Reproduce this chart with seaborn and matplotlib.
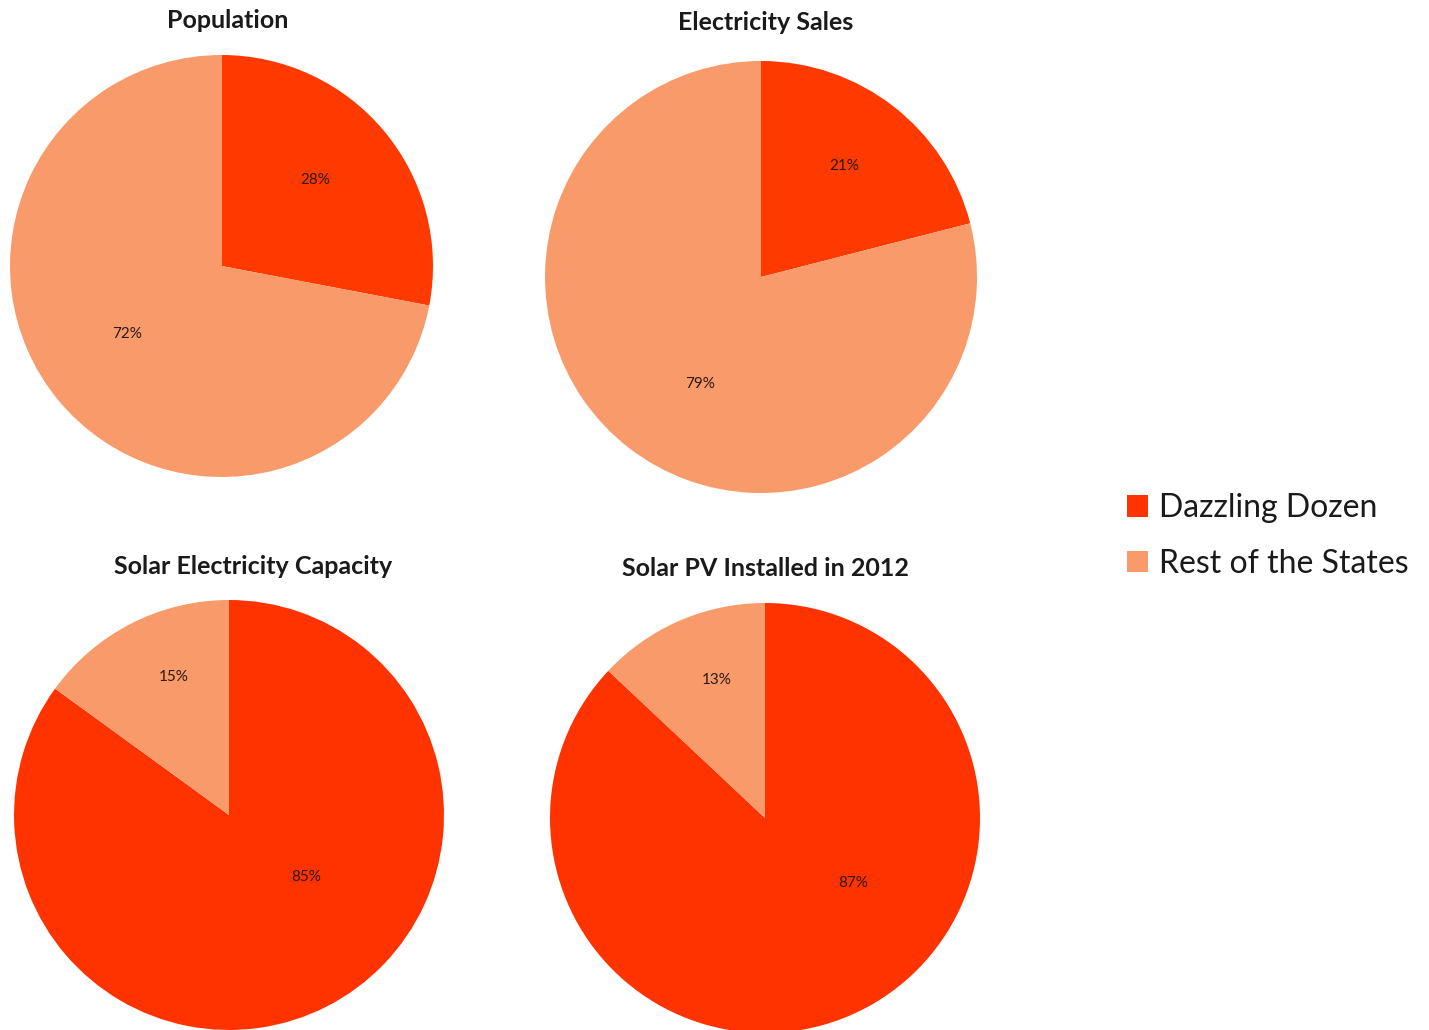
import matplotlib
matplotlib.use("Agg")
import matplotlib.pyplot as plt
import seaborn as sns
import numpy as np
from matplotlib.patches import Patch

sns.set_theme(style="white")
plt.rcParams['font.family'] = ['Lato', 'DejaVu Sans']

titles = ["Population", "Electricity Sales", "Solar Electricity Capacity", "Solar PV Installed in 2012"]
series_names = ["Dazzling Dozen", "Rest of the States"]
dozen_share = [28, 21, 85, 87]
rest_share = [72, 79, 15, 13]
colors_top = ["#FF3A00", "#F99A6A"]
colors_bottom = ["#FF3300", "#F99A6A"]

W, H = 1429, 1030
fig = plt.figure(figsize=(W / 100, H / 100), dpi=100)
fig.patch.set_facecolor("white")

# layout: pixel boxes (left, top, right, bottom) for each pie
boxes = [(10, 55, 433, 477), (545, 61, 977, 493), (14, 600, 444, 1030), (550, 603, 980, 1033)]
title_pos = [(228, 20), (766, 22), (253, 567), (765, 569)]
# label placement style (radial distance, angular shift in degrees) per wedge, mimicking Excel best-fit
label_radius = [(0.60, 0.55), (0.64, 0.57), (0.46, 0.69), (0.51, 0.68)]
label_shift = [(3, -4), (1, 8), (24, -5), (30, -4)]

for i in range(4):
    l, t, r, b = boxes[i]
    ax = fig.add_axes([l / W, 1 - b / H, (r - l) / W, (b - t) / H])
    cols = colors_top if i < 2 else colors_bottom
    wedges, texts, autotexts = ax.pie(
        [dozen_share[i], rest_share[i]], colors=cols, startangle=90, counterclock=False,
        autopct=lambda p: f"{p:.0f}%", pctdistance=0.6, radius=1.0,
        wedgeprops=dict(linewidth=0), textprops=dict(fontsize=11, color="#2a1a10"))
    for j, (w, at) in enumerate(zip(wedges, autotexts)):
        mid = np.deg2rad((w.theta1 + w.theta2) / 2 + label_shift[i][j])
        rad = label_radius[i][j]
        at.set_position((rad * np.cos(mid), rad * np.sin(mid)))
    ax.set_xlim(-1, 1)
    ax.set_ylim(-1, 1)
    ax.set_aspect("auto")
    ax.axis("off")
    tx, ty = title_pos[i]
    fig.text(tx / W, 1 - ty / H, titles[i], ha="center", va="center", fontsize=18,
             fontweight="bold", color="#1a1a1a")

handles = [Patch(facecolor=colors_bottom[0], edgecolor="none"), Patch(facecolor=colors_bottom[1], edgecolor="none")]
fig.legend(handles, series_names, loc="center left", bbox_to_anchor=(1098 / W, 1 - 536 / H),
           frameon=False, fontsize=23, handlelength=0.65, handleheight=0.65, handletextpad=0.35,
           labelspacing=0.8, labelcolor="#1a1a1a")

fig.savefig("out.png", dpi=100, facecolor="white")
